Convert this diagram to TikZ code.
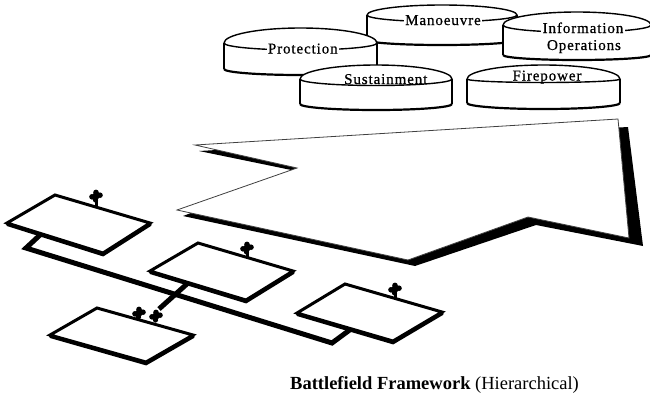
\documentclass[tikz,border=0pt]{standalone}
\usepackage{fontspec}
\setmainfont{Liberation Serif}
\newfontfamily\drumfont[LetterSpace=6,FakeBold=0.6]{Liberation Serif}

% A drum: #1 cx, #2 cy, #3 rx, #4 upper ry, #5 lower ry, #6 wall bottom y, #7 base ry
\newcommand\drum[7]{%
  \fill[white] (#1-#3,#2) arc[start angle=180,end angle=360,x radius=#3,y radius=#4]
     -- (#1+#3,#6) arc[start angle=0,end angle=180,x radius=#3,y radius=#7] -- cycle;
  \draw[drumline] (#1-#3,#2) arc[start angle=180,end angle=360,x radius=#3,y radius=#4]
     arc[start angle=0,end angle=180,x radius=#3,y radius=#5];
  \draw[drumline] (#1-#3,#2) -- (#1-#3,#6) (#1+#3,#2) -- (#1+#3,#6);
  \draw[drumbase] (#1+#3,#6) arc[start angle=0,end angle=180,x radius=#3,y radius=#7];
}

% A small jigsaw-like tab standing on a frame edge
\newcommand\blob[2]{%
  \fill (#1,#2) circle[radius=3.6]
        (#1,#2-3.6) circle[radius=2.8]
        (#1-4,#2+0.8) circle[radius=2.8]
        (#1+4,#2-0.8) circle[radius=2.8]
        (#1-0.5,#2+4) circle[radius=2.6];
}

\tikzset{
  drumline/.style={line width=1.4pt, line join=round},
  drumbase/.style={line width=2.2pt},
  drumtext/.style={font=\drumfont\fontsize{15}{17}\selectfont, inner sep=1.2pt},
  arrowbody/.style={fill=white, draw=black!75, line width=0.8pt, line join=miter},
  frame/.style={draw, fill=white, line width=3pt, line join=miter},
  frameshade/.style={line width=3.4pt, line join=miter, line cap=round},
  link/.style={line width=5pt, line join=miter},
}

\begin{document}
\begin{tikzpicture}[x=1pt, y=-1pt]
\useasboundingbox (0,0) rectangle (650,394);

% ---- the five functional drums ----
\drum{442}{15}{75}{10}{6.7}{40}{5}
\node[drumtext, fill=white, anchor=base] (manoeuvre) at (443,25) {Manoeuvre};

\drum{577}{25}{74}{13}{7.2}{55}{5}
\node[drumtext, fill=white, anchor=base] (info) at (583,33) {Information};
\node[drumtext, anchor=base] (ops) at (584,50) {Operations};

\drum{300.5}{43}{76.5}{15}{7}{69}{6}
\node[drumtext, fill=white, anchor=base] (protection) at (302.8,53.5) {Protection};

\drum{376}{79}{76}{14}{6.5}{104}{6}
\node[drumtext, anchor=base] (sustainment) at (385.8,84) {Sustainment};

\drum{543.5}{79}{76.5}{14}{3.5}{103}{6}
\node[drumtext, anchor=base] (firepower) at (547,80.5) {Firepower};

% ---- the large arrow with its extruded shadow ----
\coordinate (p1) at (195,145);
\coordinate (p2) at (618,119);
\coordinate (p3) at (629,238);
\coordinate (p4) at (528,217);
\coordinate (p5) at (408,260);
\coordinate (p6) at (177,210);
\coordinate (p7) at (297,168);
\fill (199,151) -- (628,127) -- (643,246) -- (536,225) -- (415,266) -- (183,216) -- (301,172) -- cycle;
\draw[arrowbody] (p1) -- (p2) -- (p3) -- (p4) -- (p5) -- (p6) -- (p7) -- cycle;

% ---- frames (corners: left, top, right, bottom) ----
\coordinate (aL) at (7,223);   \coordinate (aT) at (55,195);
\coordinate (aR) at (150,223); \coordinate (aB) at (103,253);
\coordinate (bL) at (150,271); \coordinate (bT) at (198,243);
\coordinate (bR) at (293,271); \coordinate (bB) at (246,300);
\coordinate (cL) at (297,313); \coordinate (cT) at (345,284);
\coordinate (cR) at (442,312); \coordinate (cB) at (393,341);
\coordinate (dL) at (50,335);  \coordinate (dT) at (97,308);
\coordinate (dR) at (193,335); \coordinate (dB) at (146,362);

% ---- hierarchy links ----
\coordinate (aOut) at (40,235);
\coordinate (k1) at (26,248);
\coordinate (k2) at (332,343);
\coordinate (cIn) at (351,329);
\draw[link] (aOut) -- (k1) -- (k2) -- (cIn);
\coordinate (bOut) at (188,283);
\coordinate (dIn) at (159,309);
\draw[link] (bOut) -- (dIn);

\foreach \f in {a,b,c,d}{
  \draw[frame] (\f L) -- (\f T) -- (\f R) -- (\f B) -- cycle;
  \draw[frameshade] ([shift={(0.5,1.4)}]\f L) -- ([shift={(0,1.6)}]\f B) -- ([shift={(0.3,1.4)}]\f R);
}

% ---- tabs on the frames ----
\blob{96}{196}
\draw[line width=3pt] (96,199) -- (96,206);
\blob{247}{248}
\draw[line width=3pt] (247,251) -- (247,257);
\blob{395}{289}
\draw[line width=3pt] (395,292) -- (395,298);
\blob{139}{313}
\blob{156}{316}

% ---- caption ----
\node[anchor=base west, inner sep=0pt, font=\fontsize{18.5}{21}\selectfont] (caption) at (290,389.5)
  {\textbf{Battlefield Framework} (Hierarchical)};
\end{tikzpicture}
\end{document}
